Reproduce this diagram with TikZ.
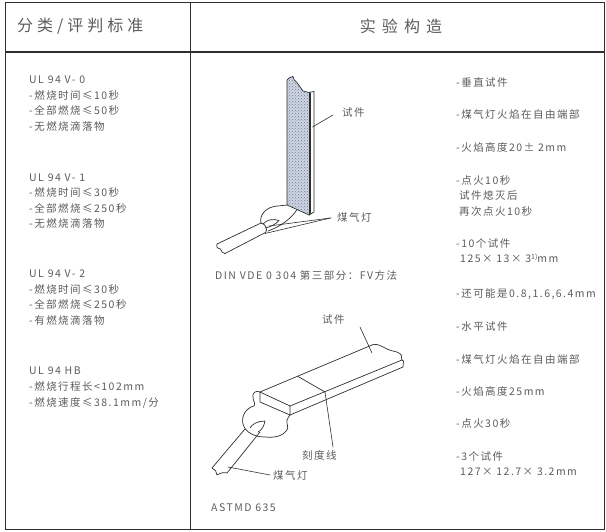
\documentclass[tikz,border=0pt]{standalone}
\usepackage{fontspec}
\setmainfont{Noto Sans CJK SC}
\usetikzlibrary{patterns}
\definecolor{txtc}{HTML}{5C5C5C}
\definecolor{linec}{HTML}{2E2E2E}
\definecolor{specfill}{RGB}{206,213,226}
\definecolor{specdot}{RGB}{112,125,150}
\begin{document}
\begin{tikzpicture}[x=1pt,y=-1pt,
  txt/.style={font=\fontsize{10.5}{15.6}\selectfont\addfontfeature{LetterSpace=14}, text=txtc, inner sep=0pt, align=left, anchor=west},
  head/.style={font=\fontsize{16}{18}\selectfont\addfontfeature{LetterSpace=25}, text=txtc, inner sep=0pt, anchor=west},
  tbl/.style={draw=linec, line width=1.1pt},
  drw/.style={draw=linec, line width=0.7pt, line join=round, line cap=round}]
\useasboundingbox (0,0) rectangle (606,532);
% table
\draw[tbl] (5.5,2.5) rectangle (604.5,529.5);
\draw[tbl] (5.5,52) -- (604.5,52);
\draw[tbl] (190.5,2.5) -- (190.5,529.5);
% headers
\node[head] (h1) at (17,26) {分类/评判标准};
\node[head, anchor=center, font=\fontsize{16}{18}\selectfont\addfontfeature{LetterSpace=38}] (h2) at (401,26) {实验构造};
% left column
\node[txt] (v0) at (29,103.5) {UL 94 V- 0\\-燃烧时间≤10秒\\-全部燃烧≤50秒\\-无燃烧滴落物};
\node[txt] (v1) at (29,201) {UL 94 V- 1\\-燃烧时间≤30秒\\-全部燃烧≤250秒\\-无燃烧滴落物};
\node[txt] (v2) at (29,297.5) {UL 94 V- 2\\-燃烧时间≤30秒\\-全部燃烧≤250秒\\-有燃烧滴落物};
\node[txt] (hb) at (29,387.5) {UL 94 HB\\-燃烧行程长<102mm\\-燃烧速度≤38.1mm/分};
% right column
\node[txt] (r1) at (456,83) {-垂直试件};
\node[txt] (r2) at (456,115) {-煤气灯火焰在自由端部};
\node[txt] (r3) at (456,147) {-火焰高度20± 2mm};
\node[txt] (r4) at (456,196) {-点火10秒\\\hspace*{3pt}试件熄灭后\\\hspace*{3pt}再次点火10秒};
\node[txt] (r5) at (456,250.5) {-10个试件\\\hspace*{4pt}125× 13× 3\raisebox{0.5ex}{\fontsize{7}{7}\selectfont\addfontfeature{LetterSpace=0}1)}mm};
\node[txt] (r6) at (456,294) {-还可能是0.8,1.6,6.4mm};
\node[txt] (r7) at (456,327) {-水平试件};
\node[txt] (r8) at (456,359) {-煤气灯火焰在自由端部};
\node[txt] (r9) at (456,391) {-火焰高度25mm};
\node[txt] (r10) at (456,424) {-点火30秒};
\node[txt] (r11) at (456,463.5) {-3个试件\\\hspace*{4pt}127× 12.7× 3.2mm};
% ---------- upper drawing: vertical specimen ----------
\path[fill=specfill] (287,80) .. controls (289,78) and (291,76) .. (293,76.5)
   .. controls (294,79) and (294,81) .. (296.5,82) -- (303,91) -- (309,92.5) -- (309,215) -- (287,205) -- cycle;
\path[pattern=crosshatch dots, pattern color=specdot] (287,80) .. controls (289,78) and (291,76) .. (293,76.5)
   .. controls (294,79) and (294,81) .. (296.5,82) -- (303,91) -- (309,92.5) -- (309,215) -- (287,205) -- cycle;
\draw[drw] (287,205) -- (287,80) .. controls (289,78) and (291,76) .. (293,76.5)
   .. controls (294,79) and (294,81) .. (296.5,82) -- (303,91) -- (309,92.5) -- (314,91.5) -- (314,212) -- (309,215) -- cycle;
\draw[drw] (309,92.5) -- (309,215);
\draw[drw, line width=0.4pt] (310.5,93) -- (310.5,213.5);
% flame
\draw[drw] (261,223) .. controls (259,215) and (266,207) .. (277,206) .. controls (281,206) and (284,205) .. (287,205);
\draw[drw] (297,209.5) .. controls (292,218) and (280,227) .. (268,231);
\draw[drw] (263,224) .. controls (267,219.5) and (273,218.5) .. (279,220.5) .. controls (275,225) and (270,227) .. (265,228);
% burner
\draw[drw] (261,223) .. controls (266,224) and (268,230) .. (265.5,232.5);
\draw[drw] (261,223) -- (217,244);
\draw[drw] (265.5,232.5) -- (225,253.5);
\draw[drw] (217,244) .. controls (216,247) and (218,249.5) .. (220.5,249) .. controls (221,251.5) and (223,253.5) .. (225,253.5);
% labels upper
\node[txt] (lab1) at (342,113) {试件};
\node[txt] (lab2) at (337,217) {煤气灯};
\coordinate (l1) at (333,115);
\coordinate (l2) at (330.5,218);
\coordinate (spc) at (312.5,127);
\coordinate (fl1) at (269,226);
\coordinate (fl2) at (265,233.5);
\draw[drw, line width=0.6pt] (l1) -- (spc);
\draw[drw, line width=0.6pt] (l2) -- (fl1);
\draw[drw, line width=0.6pt] (l2) -- (fl2);
\node[txt] (cap1) at (215,275) {DIN VDE 0 304 第三部分：FV方法};
% ---------- lower drawing: horizontal specimen ----------
\coordinate (A) at (260,392);
\coordinate (B) at (372,345);
\coordinate (C) at (290,406);
\coordinate (D) at (402,360);
\coordinate (E) at (260,402);
\coordinate (F) at (290,415);
\coordinate (G) at (403,367);
\draw[drw] (A) -- (B);
\draw[drw] (C) -- (D);
\draw[drw] (F) -- (G);
\draw[drw] (A) -- (C) -- (F) -- (E) -- (A);
\draw[drw] (B) .. controls (378,342) and (386,350) .. (393,351) .. controls (399,352) and (403,355) .. (401.5,358) -- (D);
\draw[drw] (D) -- (403.5,361) -- (G);
% graduation line
\coordinate (g1) at (298,376.5);
\coordinate (g2) at (325,392);
\draw[drw] (g1) -- (g2);
% flame blob
\draw[drw] (A) .. controls (256,390) and (252,393) .. (253,397) .. controls (253,401) and (256,404) .. (254,406)
   .. controls (246,408) and (241,416) .. (243,424) .. controls (245,432) and (254,437) .. (265,437)
   .. controls (275,438) and (283,436) .. (287,430) .. controls (289,427) and (286,423) .. (287,420)
   .. controls (288,418) and (289,416) .. (F);
% inner flame
\draw[drw] (250,428) .. controls (252,424) and (258,421) .. (265,421) .. controls (264,426) and (262,430) .. (258,432);
% burner lower
\draw[drw] (245,429) -- (212,468);
\draw[drw] (260,432) -- (227,473);
\draw[drw] (212,468) .. controls (215,469) and (217,472) .. (217,475) .. controls (220,473) and (224,472) .. (227,473);
% labels lower
\node[txt] (lab3) at (322,320) {试件};
\node[txt] (lab4) at (302,455) {刻度线};
\node[txt] (lab5) at (273,475) {煤气灯};
\coordinate (l3) at (360,327);
\coordinate (sp3) at (372,353);
\coordinate (l4) at (333,447);
\coordinate (l5) at (270,475);
\coordinate (bt) at (228,467);
\draw[drw, line width=0.6pt] (l3) -- (sp3);
\draw[drw, line width=0.6pt] (g2) -- (l4);
\draw[drw, line width=0.6pt] (l5) -- (bt);
\node[txt] (cap2) at (211,508) {ASTMD 635};
\end{tikzpicture}
\end{document}
